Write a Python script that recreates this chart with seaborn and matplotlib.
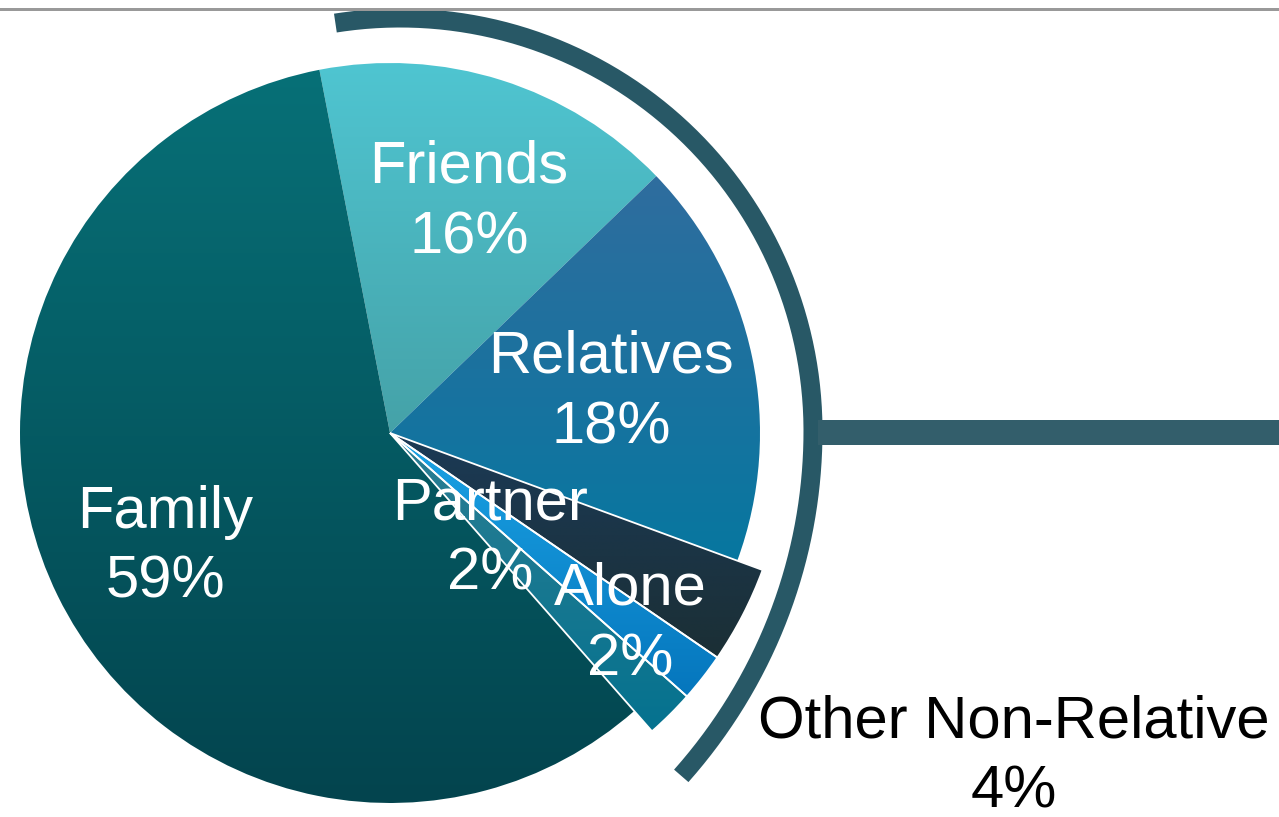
import numpy as np
import matplotlib.pyplot as plt
import seaborn as sns

categories = ["Friends", "Relatives", "Other Non-Relative", "Alone", "Partner", "Family"]
shares = [16, 18, 4, 2, 2, 59]
pct_labels = ["16%", "18%", "4%", "2%", "2%", "59%"]
top_colors = ["#4fc5d1", "#2f6d9e", "#1b3a56", "#1ba3e5", "#2b7e93", "#077077"]
bottom_colors = ["#45a2a8", "#0777a0", "#1b2f35", "#0576bd", "#05728f", "#03444e"]
popped = ["Other Non-Relative", "Alone", "Partner"]

# label positions in image pixels: (x centre, baseline of the percentage line from top)
label_pos = {
    "Friends": (469, 253),
    "Relatives": (611, 443),
    "Family": (165, 598),
    "Partner": (490, 590),
    "Alone": (630, 675),
    "Other Non-Relative": (1014, 808),
}
label_color = {"Other Non-Relative": "black"}

sns.set_theme(style="white")
plt.rcParams["font.family"] = ["Liberation Sans", "DejaVu Sans"]

W, H = 1279, 817
fig = plt.figure(figsize=(W / 100, H / 100), dpi=100)
ax = fig.add_axes([0, 0, 1, 1])
CX, CY, R = 390, H - 433, 370

wedges, _ = ax.pie(shares, startangle=101, counterclock=False, center=(CX, CY),
                   radius=R, colors=top_colors, wedgeprops=dict(linewidth=0))

grad = np.linspace(0, 1, 256)[:, None]
for w, name, top, bot in zip(wedges, categories, top_colors, bottom_colors):
    if name in popped:
        w.set_radius(R * 1.073)
        w.set_edgecolor("white")
        w.set_linewidth(1.3)
    bb = w.get_path().get_extents()
    cmap = sns.blend_palette([bot, top], as_cmap=True)
    im = ax.imshow(grad, cmap=cmap, extent=(bb.x0, bb.x1, bb.y0, bb.y1),
                   origin="lower", aspect="auto", zorder=1, interpolation="bilinear")
    im.set_clip_path(w)
    w.set_facecolor("none")
    w.set_zorder(2)

for name, pct in zip(categories, pct_labels):
    x, y = label_pos[name]
    ax.text(x, H - y, f"{name}\n{pct}", ha="center", va="baseline", fontsize=43,
            linespacing=1.36, color=label_color.get(name, "white"), zorder=5)

# bracket arc around the right part of the pie (opens slightly at the lower end)
theta = np.radians(np.linspace(-50.8, 99, 400))
r_arc = 413 + 0.0124 * np.degrees(np.minimum(theta, 0)) ** 2
acx, acy = 400, H - 431
ax.plot(acx + r_arc * np.cos(theta), acy + r_arc * np.sin(theta),
        color="#285866", lw=19 * 0.72, solid_capstyle="butt", zorder=3)
ax.add_patch(plt.Rectangle((818, H - 445), W - 818, 25, color="#335e6b", lw=0, zorder=3))
ax.add_patch(plt.Rectangle((0, H - 11), W, 3, color="#999999", lw=0, zorder=3))

ax.set_xlim(0, W)
ax.set_ylim(0, H)
ax.set_aspect("auto")
ax.axis("off")
fig.savefig("out.png", dpi=100)
